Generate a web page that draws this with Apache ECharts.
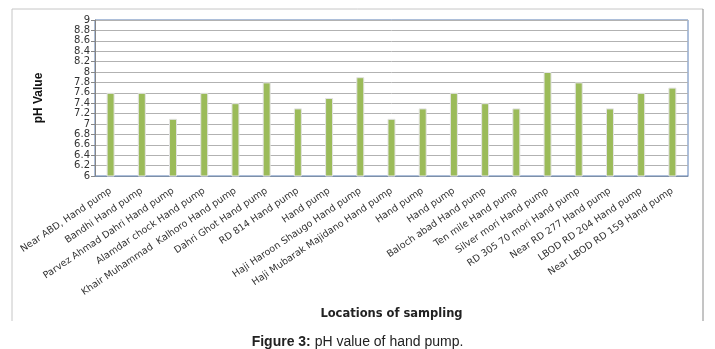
<!DOCTYPE html>
<html>
<head>
<meta charset="utf-8">
<script src="https://cdn.jsdelivr.net/npm/echarts@6/dist/echarts.min.js"></script>
<style>
  html, body { margin: 0; padding: 0; background: #fff; }
  #chart { width: 715px; height: 349px; }
</style>
</head>
<body>
<div id="chart"></div>
<script>
// sampling sites along the x axis
var locations = [
  'Near ABD, Hand pump', 'Bandhi Hand pump', 'Parvez Ahmad Dahri Hand pump',
  'Alamdar chock Hand pump', 'Khair Muhammad  Kalhoro Hand pump', 'Dahri Ghot Hand pump',
  'RD 814 Hand pump', 'Hand pump', 'Haji Haroon Shaugo Hand pump',
  'Haji Mubarak Majidano Hand pump', 'Hand pump', 'Hand pump',
  'Baloch abad Hand pump', 'Ten mile Hand pump', 'Silver mori Hand pump',
  'RD 305 70 mori Hand pump', 'Near RD 277 Hand pump', 'LBOD RD 204 Hand pump',
  'Near LBOD RD 159 Hand pump'
];
// pH
var phValues = [7.6, 7.6, 7.1, 7.6, 7.4, 7.8, 7.3, 7.5, 7.9, 7.1, 7.3, 7.6, 7.4, 7.3, 8.0, 7.8, 7.3, 7.6, 7.7];
var yMin = 6, yMax = 9, yStep = 0.2;

var chart = echarts.init(document.getElementById('chart'));
chart.setOption({
  animation: false,
  title: {
    left: 'center',
    top: 330,
    text: '{b|Figure 3:} pH value of hand pump.',
    textStyle: {
      fontFamily: 'Liberation Sans', fontSize: 14, fontWeight: 'normal', color: '#222',
      rich: { b: { fontFamily: 'Liberation Sans', fontSize: 14, fontWeight: 'bold', color: '#222' } }
    }
  },
  grid: {
    left: 95, right: 27, top: 20, bottom: 173,
    show: true, borderColor: '#5a7fb5', borderWidth: 1
  },
  xAxis: {
    type: 'category',
    data: locations,
    name: 'Locations of sampling',
    nameLocation: 'middle',
    nameGap: 132,
    nameTextStyle: { fontFamily: 'DejaVu Sans', fontSize: 11.5, fontWeight: 'bold', color: '#222' },
    axisLine: { lineStyle: { color: '#7d8fa8' } },
    axisTick: { show: false },
    axisLabel: {
      interval: 0, rotate: 34, margin: 14,
      fontFamily: 'DejaVu Sans', fontSize: 9.5, color: '#333'
    }
  },
  yAxis: {
    type: 'value',
    min: yMin, max: yMax, interval: yStep,
    name: 'pH Value',
    nameLocation: 'middle',
    nameRotate: 90,
    nameGap: 50,
    nameTextStyle: { fontFamily: 'Liberation Sans', fontSize: 12, fontWeight: 'bold', color: '#111' },
    axisLine: { show: true, lineStyle: { color: '#868686' } },
    axisTick: { show: true, length: 4, lineStyle: { color: '#868686' } },
    axisLabel: {
      margin: 5, fontFamily: 'DejaVu Sans', fontSize: 10, color: '#333',
      formatter: function (v) { return String(+v.toFixed(1)); }
    },
    splitLine: { lineStyle: { color: '#b2b2b2' } }
  },
  series: [{
    type: 'bar',
    data: phValues,
    barWidth: 8,
    itemStyle: { color: '#9bbb59', borderColor: '#e4e4e4', borderWidth: 1 }
  }],
  graphic: [
    { type: 'line', shape: { x1: 12, y1: 9, x2: 703, y2: 9 }, style: { stroke: '#c6c6c6', lineWidth: 1 } },
    { type: 'line', shape: { x1: 12, y1: 9, x2: 12, y2: 321 }, style: { stroke: '#c6c6c6', lineWidth: 1 } },
    { type: 'line', shape: { x1: 703, y1: 9, x2: 703, y2: 321 }, style: { stroke: '#8a8a8a', lineWidth: 1 } }
  ]
});
</script>
</body>
</html>
